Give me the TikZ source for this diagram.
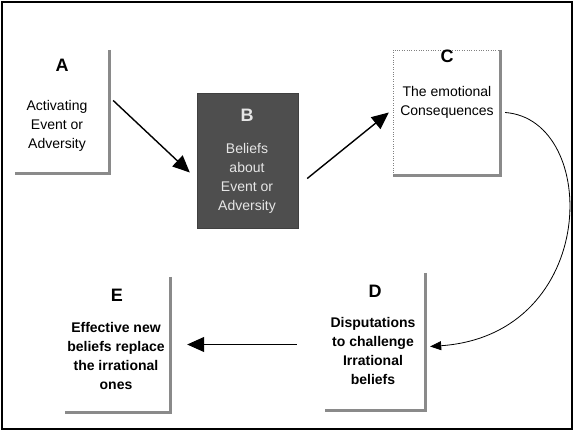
\documentclass[tikz,border=0pt]{standalone}
\usepackage{fontspec}
\setmainfont{Liberation Sans}
\usetikzlibrary{arrows.meta,positioning,calc}
\definecolor{ShadowGrey}{HTML}{8A8A8A}
\definecolor{BeliefFill}{HTML}{4E4E4E}
\definecolor{BeliefText}{HTML}{E6E6E6}

\begin{document}
\begin{tikzpicture}[x=1pt, y=-1pt,
    card/.style={inner sep=0pt},
    cardshadow/.style={draw=ShadowGrey, line width=3pt},
    tag/.style={font=\fontsize{18}{18}\selectfont\bfseries},
    body/.style={align=center, font=\fontsize{14}{19}\selectfont},
    strong/.style={align=center, font=\fontsize{14}{19}\selectfont\bfseries},
    arr/.style={-{Triangle[length=17pt,width=15pt]}, line width=1.4pt},
    backarr/.style={-{Triangle[length=17pt,width=15pt]}, line width=1pt},
    curvearr/.style={-{Triangle[length=11pt,width=9pt]}, line width=0.8pt}
  ]
    \useasboundingbox (0,0) rectangle (574,431);
    \draw[line width=2pt] (2,2) rectangle (572,429);

    % the five cards
    \node[card, minimum width=94pt, minimum height=123pt] (a) at (62,111.5) {};
    \node[card, minimum width=101pt, minimum height=135pt, fill=BeliefFill,
      draw=black!75] (b) at (247.5,160.5) {};
    \node[card, minimum width=107pt, minimum height=125pt] (c) at (446.5,112.5) {};
    \node[card, minimum width=100pt, minimum height=137pt] (d) at (375,341.5) {};
    \node[card, minimum width=105pt, minimum height=135pt] (e) at (117.5,344.5) {};
    \foreach \n in {a,c,d,e}
      \draw[cardshadow] (\n.north east) -- (\n.south east) -- (\n.south west);
    \draw[dotted, gray] (c.south west) -- (c.north west) -- (c.north east);

    % letters and texts
    \node[tag] (a-tag) at (62,65) {A};
    \node[body] (a-text) at (57,126) {Activating\\Event or\\Adversity};
    \node[tag, text=BeliefText] (b-tag) at (247,115) {B};
    \node[body, text=BeliefText] (b-text) at (247,178)
      {Beliefs\\about\\Event or\\Adversity};
    \node[tag] (c-tag) at (447,56) {C};
    \node[body] (c-text) at (447,102) {The emotional\\Consequences};
    \node[tag] (d-tag) at (375,291) {D};
    \node[strong] (d-text) at (373,351)
      {Disputations\\to challenge\\Irrational\\beliefs};
    \node[tag] (e-tag) at (117,295) {E};
    \node[strong] (e-text) at (116,356)
      {Effective new\\beliefs replace\\the irrational\\ones};

    % connectors
    \draw[arr] ([shift={(4,-11)}]a.east) -- ([shift={(-7,12)}]b.west);
    \draw[arr] ([shift={(9,18)}]b.east) -- ([shift={(-4,0)}]c.west);
    \draw[curvearr] ([shift={(5,0)}]c.east)
      .. controls +(95,7) and +(170,-12) .. ([shift={(5,5)}]d.east);
    \draw[backarr] ([shift={(-28,3)}]d.west) -- ([shift={(17,0)}]e.east);
  \end{tikzpicture}
\end{document}
